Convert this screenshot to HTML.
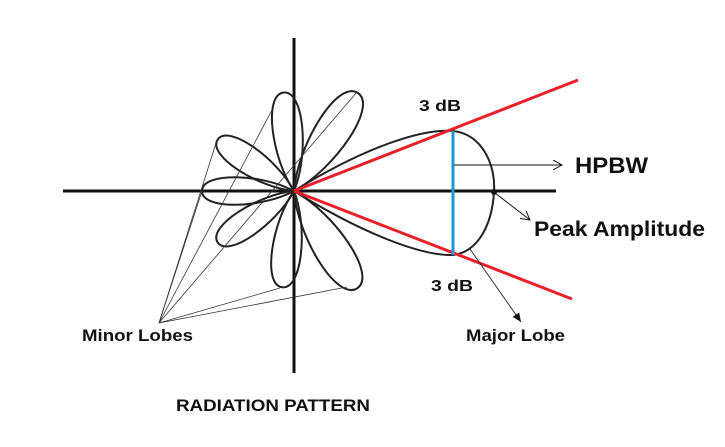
<!DOCTYPE html>
<html><head><meta charset="utf-8"><style>
body{margin:0;background:#fff}
svg{display:block}
text{font-family:"Liberation Sans",sans-serif;font-weight:bold;fill:#111}
</style></head><body>
<svg width="725" height="447" viewBox="0 0 725 447">
<defs>
<marker id="ar" markerWidth="10" markerHeight="10" refX="9" refY="5" orient="auto" markerUnits="userSpaceOnUse"><path d="M0,0 L9,5 L0,10" fill="none" stroke="#111" stroke-width="1"/></marker>
<marker id="af" markerWidth="10" markerHeight="10" refX="9" refY="5" orient="auto" markerUnits="userSpaceOnUse"><path d="M0,1 L9,5 L0,9 Z" fill="#111"/></marker>
</defs>
<line x1="294" y1="38" x2="294" y2="373" stroke="#111" stroke-width="3"/>
<line x1="63" y1="191" x2="556" y2="191" stroke="#111" stroke-width="3"/>
<g id="lobes" fill="none" stroke="#222" stroke-width="2"></g>
<g stroke="#333" stroke-width="0.8">
<line x1="159" y1="323" x2="217" y2="140"/><line x1="159" y1="323" x2="272" y2="110"/>
<line x1="159" y1="323" x2="357" y2="92"/><line x1="159" y1="323" x2="202" y2="191"/>
<line x1="159" y1="323" x2="280" y2="288"/><line x1="159" y1="323" x2="347" y2="287"/>
</g>
<path d="M294,191 C360,150 420,128 453,131 C482,134 496,165 494,192 C492,225 478,252 453,255 C420,256 360,232 294,191 Z" fill="none" stroke="#222" stroke-width="2"/>
<line x1="294" y1="191" x2="578" y2="80" stroke="#e8202a" stroke-width="3"/>
<line x1="294" y1="191" x2="572" y2="299" stroke="#e8202a" stroke-width="3"/>
<line x1="453" y1="131" x2="453" y2="255" stroke="#1a9ad6" stroke-width="3"/>
<circle cx="494" cy="192" r="3" fill="#111"/>
<line x1="454" y1="165" x2="562" y2="165" stroke="#111" stroke-width="1" marker-end="url(#ar)"/>
<line x1="495" y1="193" x2="530" y2="220" stroke="#111" stroke-width="1" marker-end="url(#ar)"/>
<line x1="470" y1="249" x2="521" y2="322" stroke="#333" stroke-width="1" marker-end="url(#af)"/>
<text x="575" y="173" font-size="22" textLength="73" lengthAdjust="spacingAndGlyphs">HPBW</text>
<text x="534" y="236" font-size="21" textLength="171" lengthAdjust="spacingAndGlyphs">Peak Amplitude</text>
<text x="419" y="111" font-size="16" textLength="42" lengthAdjust="spacingAndGlyphs">3 dB</text>
<text x="431" y="291" font-size="16" textLength="42" lengthAdjust="spacingAndGlyphs">3 dB</text>
<text x="82" y="341" font-size="17" textLength="111" lengthAdjust="spacingAndGlyphs">Minor Lobes</text>
<text x="466" y="341" font-size="17" textLength="99" lengthAdjust="spacingAndGlyphs">Major Lobe</text>
<text x="176" y="411" font-size="17" textLength="194" lengthAdjust="spacingAndGlyphs">RADIATION PATTERN</text>
</svg>
<script>
// minor lobe angles (deg, counterclockwise from +x) and lengths
const lobeAngles=[96,57,146,180,214,263,303];
const lobeLengths=[99,117,92,92,92,97,116];
const ox=294, oy=191;
const g=document.getElementById('lobes');
lobeAngles.forEach((a,i)=>{
  const L=lobeLengths[i], w=L*0.19;
  const p=document.createElementNS('http://www.w3.org/2000/svg','path');
  p.setAttribute('d',`M0,0 C${0.35*L},${-w} ${L},${-w*1.1} ${L},0 C${L},${w*1.1} ${0.35*L},${w} 0,0 Z`);
  p.setAttribute('transform',`translate(${ox},${oy}) rotate(${-a})`);
  
  
  g.appendChild(p);
});
</script>
</body></html>
